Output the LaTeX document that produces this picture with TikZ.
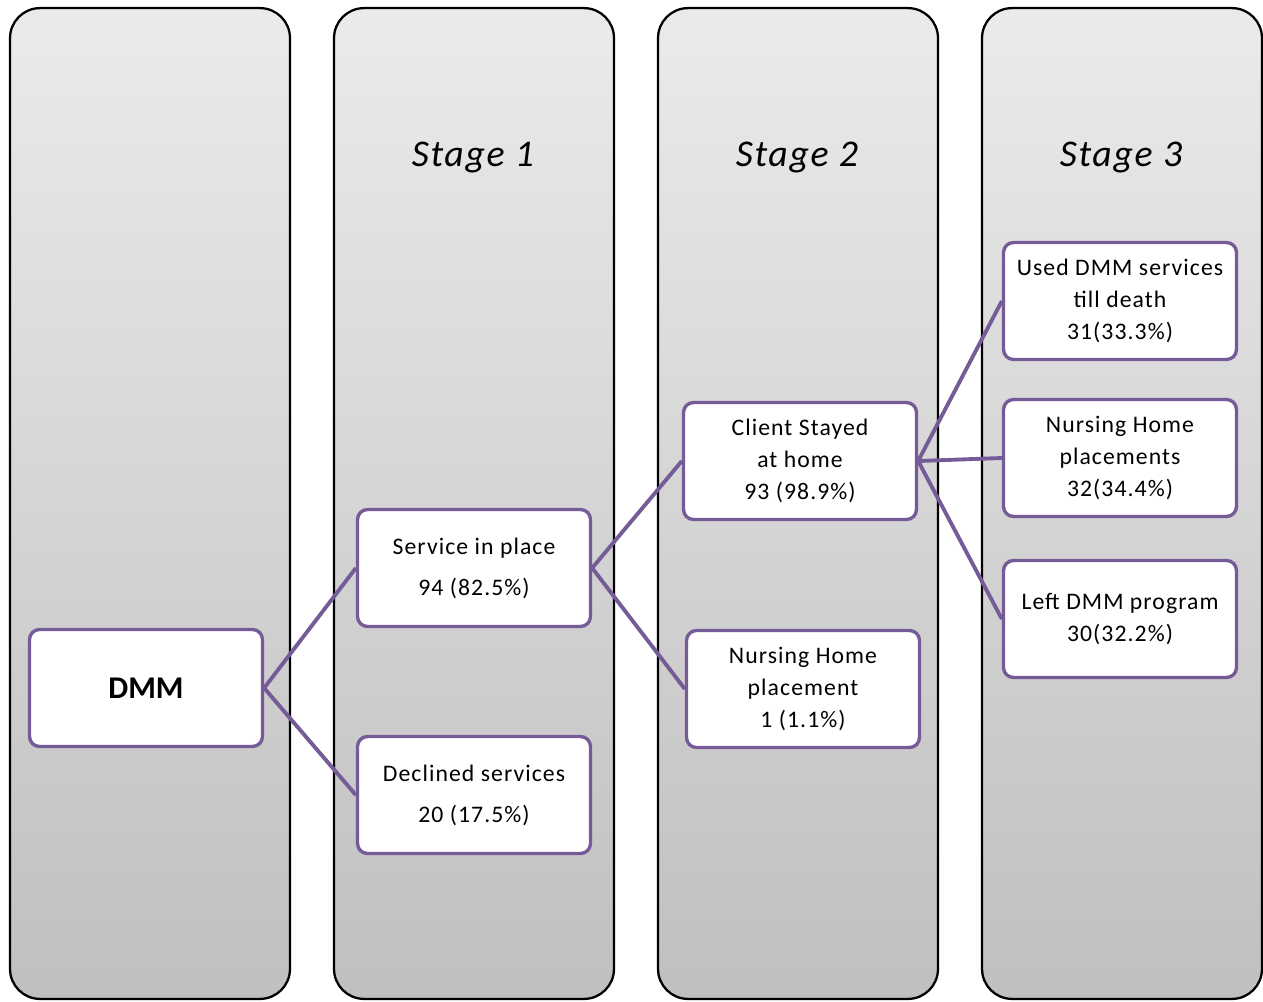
\documentclass[tikz,border=0pt]{standalone}
\usepackage{fontspec}
\setmainfont{Carlito}
\newfontfamily\widefont[LetterSpace=4.5]{Carlito}
\definecolor{boxline}{RGB}{117,92,152}

\begin{document}
\begin{tikzpicture}[x=0.02cm, y=-0.02cm,
  column/.style={draw=black, line width=1.3pt, rounded corners=0.6cm,
    top color=black!8, bottom color=black!25, minimum width=5.6cm, minimum height=19.82cm},
  stage/.style={font=\widefont\fontsize{21.5}{25}\selectfont\itshape},
  stepbox/.style={draw=boxline, line width=1.9pt, fill=white, rounded corners=0.2cm,
    minimum width=4.66cm, minimum height=2.34cm, align=center,
    font=\widefont\fontsize{13.5}{18.3}\selectfont},
  link/.style={draw=boxline, line width=2.2pt}]
\useasboundingbox (0,0) rectangle (1263,1001);

% the four columns
\node [column] (col0) at (150,503.5) {};
\node [column] (col1) at (474,503.5) {};
\node [column] (col2) at (798,503.5) {};
\node [column] (col3) at (1122,503.5) {};

\node [stage] (s1) at (473,157) {Stage 1};
\node [stage] (s2) at (797,157) {Stage 2};
\node [stage] (s3) at (1121,157) {Stage 3};

% boxes
\node [stepbox, font=\fontsize{18}{20}\selectfont\bfseries] (dmm) at (146,688) {DMM};
\node [stepbox] (place) at (474,568) {Service in place\\[5pt]94 (82.5\%)};
\node [stepbox] (declined) at (474,795) {Declined services\\[5pt]20 (17.5\%)};
\node [stepbox] (home) at (800,461) {Client Stayed\\at home\\93 (98.9\%)};
\node [stepbox] (nh1) at (803,689) {Nursing Home\\placement\\1 (1.1\%)};
\node [stepbox] (death) at (1120,301) {Used DMM services\\till death\\31(33.3\%)};
\node [stepbox] (nh2) at (1120,458) {Nursing Home\\placements\\32(34.4\%)};
\node [stepbox] (left) at (1120,619) {Left DMM program\\30(32.2\%)};

\draw[link] (dmm.east) -- (place.west);
\draw[link] (dmm.east) -- (declined.west);
\draw[link] (place.east) -- (home.west);
\draw[link] (place.east) -- (nh1.west);
\draw[link] (home.east) -- (death.west);
\draw[link] (home.east) -- (nh2.west);
\draw[link] (home.east) -- (left.west);

\end{tikzpicture}
\end{document}
